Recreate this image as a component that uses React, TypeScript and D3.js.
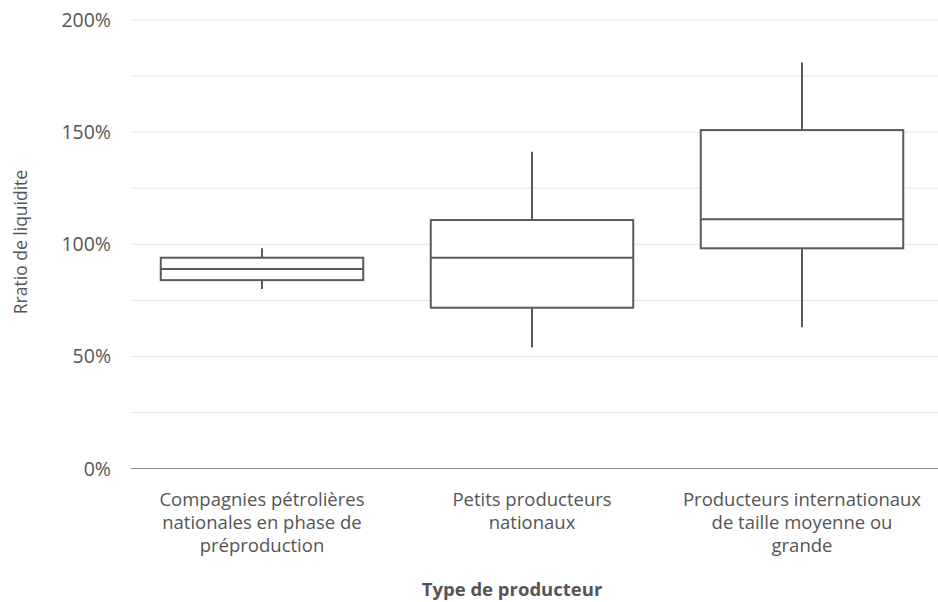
import React from "react";
import * as d3 from "d3";

const categories = [
  ["Compagnies pétrolières", "nationales en phase de", "préproduction"],
  ["Petits producteurs", "nationaux"],
  ["Producteurs internationaux", "de taille moyenne ou", "grande"],
];
const whiskerLow = [0.80, 0.54, 0.63];
const q1 = [0.84, 0.717, 0.982];
const median = [0.89, 0.94, 1.111];
const q3 = [0.94, 1.108, 1.509];
const whiskerHigh = [0.982, 1.413, 1.81];
const yTicks = [0, 0.5, 1, 1.5, 2];
const yGrid = [0.25, 0.5, 0.75, 1, 1.25, 1.5, 1.75, 2];

const W = 938;
const H = 602;
const FONT = "'Open Sans', 'Noto Sans', sans-serif";
const TEXT = "#555555";

export default function App() {
  const x = d3.scaleBand<number>().domain([0, 1, 2]).range([127, 937]).padding(0);
  const y = d3.scaleLinear().domain([0, 2]).range([468.5, 20]);
  const bw = x.bandwidth() * 0.75;
  const stroke = "#595959";
  return (
    <svg width={W} height={H} style={{ position: "absolute", left: 0, top: 0 }}>
      <rect width={W} height={H} fill="#fff" />
      {yGrid.map((v) => (
        <line key={v} x1={131} x2={938} y1={y(v)} y2={y(v)} stroke="#e2e2e2" strokeWidth={1} />
      ))}
      <line x1={131} x2={938} y1={y(0)} y2={y(0)} stroke="#8c8c8c" strokeWidth={1.2} />
      {yTicks.map((v) => (
        <text key={v} x={111} y={y(v)} dy="0.36em" textAnchor="end" fontFamily={FONT} fontSize={19.5} fill={TEXT}>
          {d3.format(".0%")(v)}
        </text>
      ))}
      <text
        transform={`translate(27,${y(1.01)}) rotate(-90)`}
        textAnchor="middle"
        fontFamily={FONT}
        fontSize={17.5}
        fill={TEXT}
      >
        Rratio de liquidite
      </text>
      {categories.map((lines, i) => {
        const cx = (x(i) as number) + x.bandwidth() / 2;
        return (
          <g key={i}>
            <line x1={cx} x2={cx} y1={y(whiskerHigh[i])} y2={y(q3[i])} stroke={stroke} strokeWidth={2} />
            <line x1={cx} x2={cx} y1={y(q1[i])} y2={y(whiskerLow[i])} stroke={stroke} strokeWidth={2} />
            <rect
              x={cx - bw / 2}
              y={y(q3[i])}
              width={bw}
              height={y(q1[i]) - y(q3[i])}
              fill="#fff"
              stroke={stroke}
              strokeWidth={2}
            />
            <line x1={cx - bw / 2} x2={cx + bw / 2} y1={y(median[i])} y2={y(median[i])} stroke={stroke} strokeWidth={2} />
            {lines.map((t, j) => (
              <text key={j} x={cx} y={506 + j * 23} textAnchor="middle" fontFamily={FONT} fontSize={18.5} fill={TEXT}>
                {t}
              </text>
            ))}
          </g>
        );
      })}
      <text x={512} y={596} textAnchor="middle" fontFamily={FONT} fontSize={18.5} fontWeight={700} fill={TEXT}>
        Type de producteur
      </text>
    </svg>
  );
}
